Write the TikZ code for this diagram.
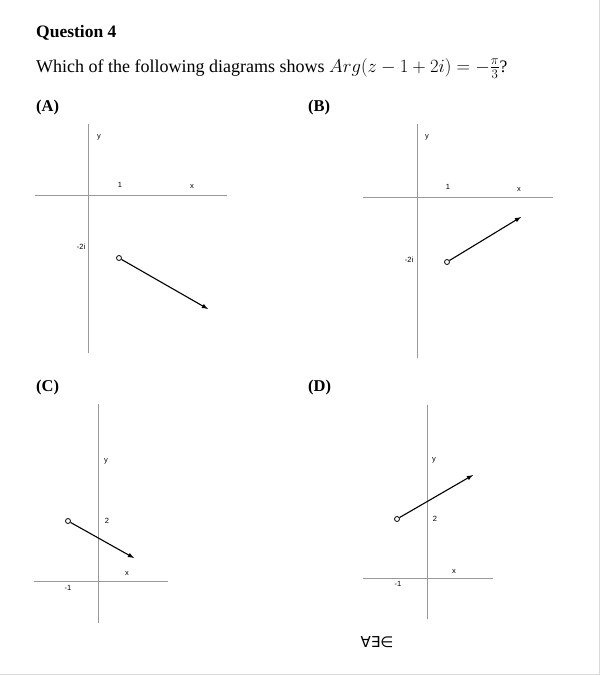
\documentclass[tikz,border=0pt]{standalone}
\usepackage{graphicx}
\usepackage{fontspec}
\setmainfont{Liberation Serif}
\newfontfamily\axisfont{Liberation Sans}
\newfontfamily\symbolfont{DejaVu Sans}
\begin{document}
\begin{tikzpicture}[x=1pt, y=-1pt,
		textline/.style={anchor=base west, inner sep=0pt, font=\fontsize{18}{21}\selectfont},
		partlabel/.style={anchor=base west, inner sep=0pt, font=\bfseries\fontsize{16.5}{19}\selectfont},
		axis/.style={gray!80, line width=0.9pt},
		lbl/.style={inner sep=0pt, font=\axisfont\fontsize{7.5}{8}\selectfont},
		start/.style={circle, draw, line width=0.8pt, minimum size=5pt, inner sep=0pt},
		ray/.style={-latex, line width=1.1pt}
	]
		\useasboundingbox (0,0) rectangle (600,675);
		\draw[gray!30, line width=1pt] (599.5,0) -- (599.5,674.5) -- (0,674.5);

		% question text
		\node[textline, font=\bfseries\fontsize{17.5}{20}\selectfont] (q) at (36,37) {Question 4};
		\node[textline] (t) at (36,72) {Which of the following diagrams shows \scalebox{0.9}{\fontsize{19.5}{21}\selectfont$Arg(z-1+2i)=-\frac{\pi}{3}$?}};
		\node[partlabel] (pa) at (36,111) {(A)};
		\node[partlabel] (pb) at (308,111) {(B)};
		\node[partlabel] (pc) at (36,391) {(C)};
		\node[partlabel] (pd) at (308,391) {(D)};

		% (A)
		\draw[axis] (88,124) -- (88,353);
		\draw[axis] (35,195) -- (227,195);
		\node[lbl] (ay) at (99,137) {y};
		\node[lbl] (a1) at (120,185) {1};
		\node[lbl] (ax) at (192,187) {x};
		\node[lbl] (am) at (81,247) {-2i};
		\node[start] (as) at (119,258) {};
		\coordinate (ae) at (208,309);
		\draw[ray] (as) -- (ae);

		% (B)
		\draw[axis] (417,124) -- (417,358);
		\draw[axis] (363,197) -- (553,197);
		\node[lbl] (by) at (427,137) {y};
		\node[lbl] (b1) at (448,187) {1};
		\node[lbl] (bx) at (519,190) {x};
		\node[lbl] (bm) at (409,260) {-2i};
		\node[start] (bs) at (447,262) {};
		\coordinate (be) at (521,217);
		\draw[ray] (bs) -- (be);

		% (C)
		\draw[axis] (98,404) -- (98,623);
		\draw[axis] (34,581) -- (168,581);
		\node[lbl] (cy) at (106,461) {y};
		\node[lbl] (c2) at (107,521) {2};
		\node[lbl] (cx) at (127,574) {x};
		\node[lbl] (cm) at (68,588) {-1};
		\node[start] (cs) at (68,521) {};
		\coordinate (ce) at (134,558);
		\draw[ray] (cs) -- (ce);

		% (D)
		\draw[axis] (427,405) -- (427,619);
		\draw[axis] (363,578) -- (493,578);
		\node[lbl] (dy) at (434,460) {y};
		\node[lbl] (d2) at (435,519) {2};
		\node[lbl] (dx) at (454,572) {x};
		\node[lbl] (dm) at (398,584) {-1};
		\node[start] (ds) at (397,519) {};
		\coordinate (de) at (473,475);
		\draw[ray] (ds) -- (de);

		\node[inner sep=0pt, font=\symbolfont\fontsize{15}{18}\selectfont] (sym) at (377,642) {∀∃∈};
	\end{tikzpicture}
\end{document}
